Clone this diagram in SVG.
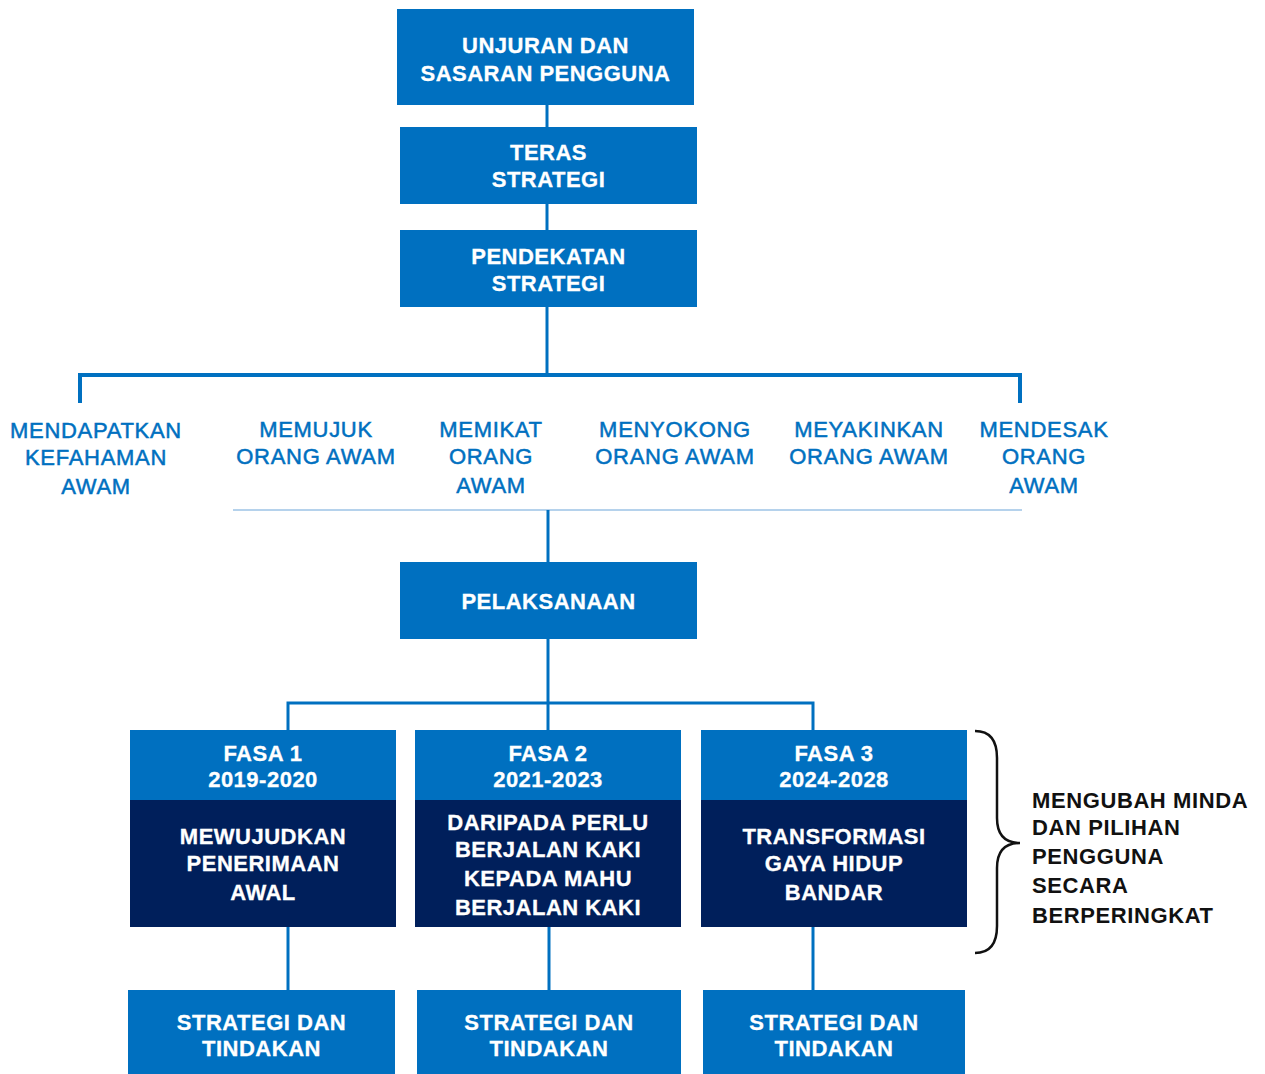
<svg xmlns="http://www.w3.org/2000/svg" width="1265" height="1074" viewBox="0 0 1265 1074">
  <style>
    .box { fill: #0070c0; }
    .dark { fill: #001f5b; }
    .bt { font-family: "Liberation Sans", Arial, sans-serif; font-weight: bold; font-size: 22px; fill: #ffffff; stroke: #ffffff; stroke-width: 0.3px; text-anchor: middle; letter-spacing: 0.5px; }
    .lbl { font-family: "Liberation Sans", Arial, sans-serif; font-size: 22px; fill: #0070c0; stroke: #0070c0; stroke-width: 0.5px; text-anchor: middle; letter-spacing: 0.7px; }
    .note { font-family: "Liberation Sans", Arial, sans-serif; font-weight: bold; font-size: 22px; fill: #111111; letter-spacing: 0.6px; }
    .conn { stroke: #0070c0; stroke-width: 3; fill: none; }
    .bar { stroke: #0070c0; stroke-width: 4; fill: none; }
    .thin { stroke: #9dc3e6; stroke-width: 1.5; fill: none; }
    .brace { stroke: #111111; stroke-width: 2.5; fill: none; }
  </style>

  <!-- connectors -->
  <g id="connectors">
    <line class="conn" x1="547" y1="104" x2="547" y2="128"/>
    <line class="conn" x1="547" y1="203" x2="547" y2="231"/>
    <line class="conn" x1="547" y1="306" x2="547" y2="375"/>
    <polyline class="bar" points="80,403 80,375 1020,375 1020,403"/>
    <line class="thin" x1="233" y1="510" x2="1022" y2="510"/>
    <line class="conn" x1="548" y1="510" x2="548" y2="563"/>
    <line class="conn" x1="548" y1="638" x2="548" y2="731"/>
    <polyline class="conn" points="288,731 288,703 813,703 813,731"/>
    <line class="conn" x1="288" y1="926" x2="288" y2="990"/>
    <line class="conn" x1="549" y1="926" x2="549" y2="990"/>
    <line class="conn" x1="813" y1="926" x2="813" y2="990"/>
  </g>

  <!-- top chain -->
  <g id="unjuran">
    <rect class="box" x="397" y="9" width="297" height="96"/>
    <text class="bt" x="545.5" y="53">UNJURAN DAN</text>
    <text class="bt" x="545.5" y="81">SASARAN PENGGUNA</text>
  </g>
  <g id="teras">
    <rect class="box" x="400" y="127" width="297" height="77"/>
    <text class="bt" x="548.5" y="160">TERAS</text>
    <text class="bt" x="548.5" y="187">STRATEGI</text>
  </g>
  <g id="pendekatan">
    <rect class="box" x="400" y="230" width="297" height="77"/>
    <text class="bt" x="548.5" y="264">PENDEKATAN</text>
    <text class="bt" x="548.5" y="291">STRATEGI</text>
  </g>

  <!-- approach labels -->
  <g id="mendapatkan">
    <text class="lbl" x="96" y="438">MENDAPATKAN</text>
    <text class="lbl" x="96" y="465">KEFAHAMAN</text>
    <text class="lbl" x="96" y="494">AWAM</text>
  </g>
  <g id="memujuk">
    <text class="lbl" x="316" y="437">MEMUJUK</text>
    <text class="lbl" x="316" y="464">ORANG AWAM</text>
  </g>
  <g id="memikat">
    <text class="lbl" x="491" y="437">MEMIKAT</text>
    <text class="lbl" x="491" y="464">ORANG</text>
    <text class="lbl" x="491" y="493">AWAM</text>
  </g>
  <g id="menyokong">
    <text class="lbl" x="675" y="437">MENYOKONG</text>
    <text class="lbl" x="675" y="464">ORANG AWAM</text>
  </g>
  <g id="meyakinkan">
    <text class="lbl" x="869" y="437">MEYAKINKAN</text>
    <text class="lbl" x="869" y="464">ORANG AWAM</text>
  </g>
  <g id="mendesak">
    <text class="lbl" x="1044" y="437">MENDESAK</text>
    <text class="lbl" x="1044" y="464">ORANG</text>
    <text class="lbl" x="1044" y="493">AWAM</text>
  </g>

  <!-- implementation -->
  <g id="pelaksanaan">
    <rect class="box" x="400" y="562" width="297" height="77"/>
    <text class="bt" x="548.5" y="609">PELAKSANAAN</text>
  </g>

  <!-- phases -->
  <g id="fasa1">
    <rect class="box" x="130" y="730" width="266" height="70"/>
    <rect class="dark" x="130" y="800" width="266" height="127"/>
    <text class="bt" x="263" y="761">FASA 1</text>
    <text class="bt" x="263" y="787">2019-2020</text>
    <text class="bt" x="263" y="844">MEWUJUDKAN</text>
    <text class="bt" x="263" y="871">PENERIMAAN</text>
    <text class="bt" x="263" y="900">AWAL</text>
  </g>
  <g id="fasa2">
    <rect class="box" x="415" y="730" width="266" height="70"/>
    <rect class="dark" x="415" y="800" width="266" height="127"/>
    <text class="bt" x="548" y="761">FASA 2</text>
    <text class="bt" x="548" y="787">2021-2023</text>
    <text class="bt" x="548" y="830">DARIPADA PERLU</text>
    <text class="bt" x="548" y="857">BERJALAN KAKI</text>
    <text class="bt" x="548" y="886">KEPADA MAHU</text>
    <text class="bt" x="548" y="915">BERJALAN KAKI</text>
  </g>
  <g id="fasa3">
    <rect class="box" x="701" y="730" width="266" height="70"/>
    <rect class="dark" x="701" y="800" width="266" height="127"/>
    <text class="bt" x="834" y="761">FASA 3</text>
    <text class="bt" x="834" y="787">2024-2028</text>
    <text class="bt" x="834" y="844">TRANSFORMASI</text>
    <text class="bt" x="834" y="871">GAYA HIDUP</text>
    <text class="bt" x="834" y="900">BANDAR</text>
  </g>

  <!-- strategy & action boxes -->
  <g id="tindakan1">
    <rect class="box" x="128" y="990" width="267" height="84"/>
    <text class="bt" x="261.5" y="1030">STRATEGI DAN</text>
    <text class="bt" x="261.5" y="1056">TINDAKAN</text>
  </g>
  <g id="tindakan2">
    <rect class="box" x="417" y="990" width="264" height="84"/>
    <text class="bt" x="549" y="1030">STRATEGI DAN</text>
    <text class="bt" x="549" y="1056">TINDAKAN</text>
  </g>
  <g id="tindakan3">
    <rect class="box" x="703" y="990" width="262" height="84"/>
    <text class="bt" x="834" y="1030">STRATEGI DAN</text>
    <text class="bt" x="834" y="1056">TINDAKAN</text>
  </g>

  <!-- brace and note -->
  <g id="nota">
    <path class="brace" d="M975,731 Q997,731 997,758 L997,818 Q997,843 1020,843 Q997,843 997,868 L997,926 Q997,953 975,953"/>
    <text class="note" x="1032" y="808">MENGUBAH MINDA</text>
    <text class="note" x="1032" y="835">DAN PILIHAN</text>
    <text class="note" x="1032" y="864">PENGGUNA</text>
    <text class="note" x="1032" y="893">SECARA</text>
    <text class="note" x="1032" y="923">BERPERINGKAT</text>
  </g>
</svg>
